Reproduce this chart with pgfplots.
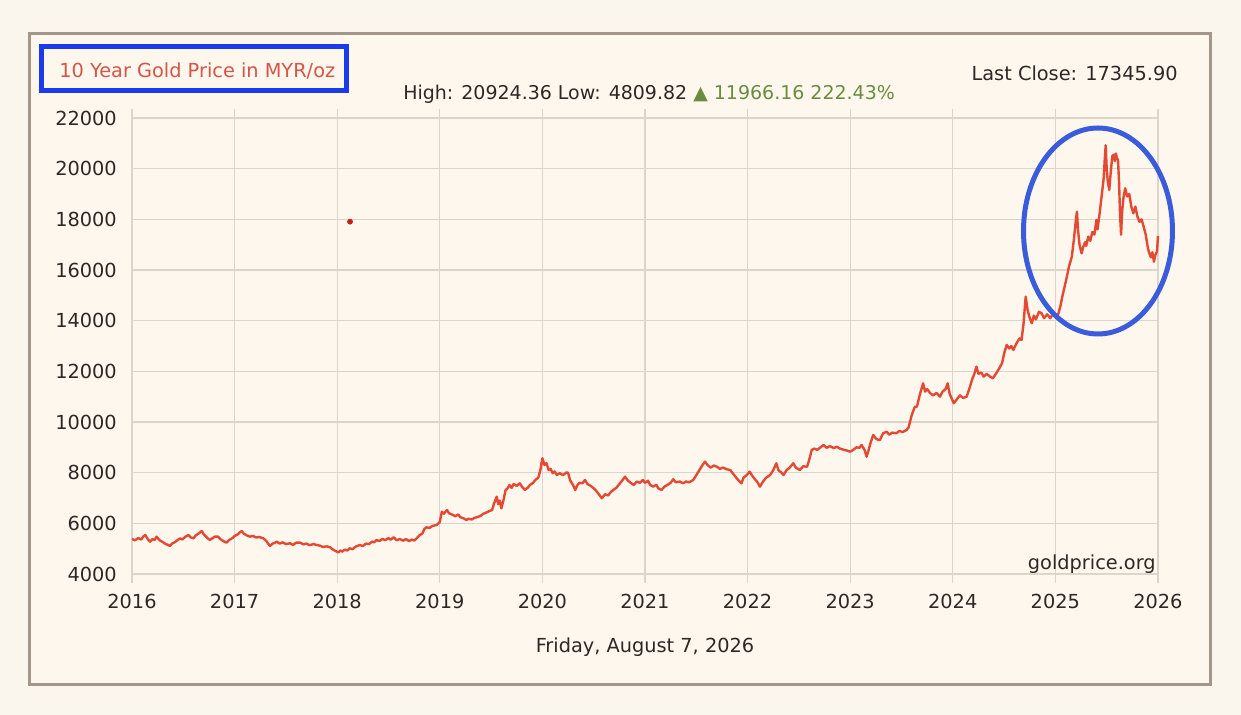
\documentclass[border=0pt]{standalone}
\usepackage{pgfplots}
\pgfplotsset{compat=1.18}
\usepackage{fontspec}
\setmainfont{DejaVu Sans}
\definecolor{bgout}{RGB}{250,246,237}
\definecolor{bgin}{RGB}{253,247,237}
\definecolor{framec}{RGB}{163,150,138}
\definecolor{gridc}{RGB}{221,213,203}
\definecolor{linec}{RGB}{228,74,51}
\definecolor{titlec}{RGB}{214,84,72}
\definecolor{textc}{RGB}{45,40,38}
\definecolor{greenc}{RGB}{107,140,62}
\definecolor{boxblue}{RGB}{26,58,235}
\definecolor{ellblue}{RGB}{58,92,220}
\newcommand{\ff}{\fontsize{11}{13}\selectfont}

\pgfplotstableread{
x y
2016.00 5380
2016.03 5330
2016.06 5420
2016.09 5360
2016.11 5480
2016.13 5540
2016.15 5400
2016.175 5275
2016.20 5380
2016.22 5340
2016.24 5473
2016.27 5330
2016.30 5260
2016.33 5180
2016.35 5150
2016.37 5105
2016.39 5200
2016.42 5260
2016.44 5330
2016.47 5409
2016.49 5360
2016.52 5470
2016.55 5540
2016.57 5450
2016.60 5409
2016.62 5520
2016.65 5600
2016.68 5698
2016.70 5560
2016.72 5480
2016.74 5400
2016.76 5342
2016.79 5430
2016.81 5480
2016.84 5473
2016.86 5380
2016.89 5300
2016.92 5236
2016.95 5350
2016.98 5420
2017.00 5500
2017.03 5560
2017.05 5640
2017.07 5698
2017.09 5590
2017.12 5520
2017.15 5473
2017.18 5500
2017.21 5440
2017.24 5460
2017.28 5409
2017.31 5300
2017.33 5180
2017.345 5105
2017.37 5200
2017.39 5230
2017.41 5275
2017.44 5200
2017.47 5250
2017.50 5180
2017.54 5212
2017.57 5150
2017.60 5240
2017.64 5236
2017.67 5170
2017.70 5200
2017.73 5140
2017.77 5180
2017.80 5145
2017.83 5120
2017.86 5070
2017.90 5090
2017.93 5054
2017.96 4960
2017.99 4900
2018.01 4850
2018.03 4930
2018.05 4880
2018.07 4960
2018.10 4930
2018.12 5015
2018.15 4980
2018.18 5080
2018.22 5145
2018.25 5100
2018.28 5200
2018.31 5180
2018.34 5280
2018.36 5250
2018.385 5342
2018.41 5300
2018.44 5380
2018.47 5340
2018.50 5420
2018.52 5350
2018.55 5449
2018.58 5330
2018.61 5380
2018.645 5315
2018.67 5380
2018.70 5300
2018.73 5360
2018.75 5320
2018.775 5409
2018.80 5520
2018.83 5600
2018.85 5780
2018.87 5843
2018.90 5820
2018.93 5900
2018.97 5935
2019.00 6050
2019.02 6460
2019.04 6380
2019.07 6527
2019.09 6400
2019.11 6360
2019.13 6330
2019.15 6280
2019.18 6350
2019.20 6240
2019.23 6200
2019.26 6132
2019.28 6180
2019.31 6150
2019.34 6220
2019.37 6250
2019.40 6300
2019.42 6369
2019.45 6420
2019.48 6480
2019.51 6527
2019.53 6800
2019.555 7052
2019.57 6750
2019.585 6900
2019.60 6594
2019.62 6900
2019.64 7300
2019.66 7380
2019.68 7514
2019.70 7400
2019.72 7550
2019.75 7480
2019.78 7580
2019.80 7450
2019.83 7316
2019.86 7420
2019.88 7520
2019.91 7600
2019.93 7711
2019.96 7800
2019.98 8100
2020.00 8568
2020.02 8300
2020.04 8380
2020.06 8106
2020.08 8150
2020.10 7980
2020.12 8050
2020.14 7909
2020.17 7980
2020.20 7900
2020.23 8000
2020.25 7999
2020.27 7700
2020.30 7500
2020.32 7316
2020.34 7500
2020.36 7600
2020.39 7580
2020.415 7711
2020.44 7550
2020.47 7480
2020.50 7383
2020.52 7300
2020.55 7150
2020.58 6988
2020.61 7150
2020.64 7100
2020.67 7250
2020.69 7316
2020.72 7400
2020.75 7550
2020.78 7700
2020.805 7843
2020.83 7700
2020.86 7600
2020.89 7514
2020.92 7650
2020.95 7600
2020.98 7711
2021.00 7600
2021.03 7680
2021.05 7514
2021.08 7450
2021.11 7520
2021.13 7380
2021.16 7316
2021.19 7450
2021.22 7520
2021.25 7600
2021.275 7738
2021.30 7620
2021.34 7650
2021.37 7580
2021.40 7650
2021.43 7620
2021.47 7711
2021.50 7900
2021.53 8100
2021.56 8300
2021.585 8434
2021.61 8300
2021.64 8200
2021.67 8280
2021.70 8237
2021.73 8150
2021.76 8200
2021.80 8130
2021.83 8106
2021.86 7950
2021.89 7800
2021.91 7700
2021.94 7580
2021.96 7800
2021.99 7900
2022.02 8040
2022.05 7850
2022.08 7700
2022.10 7600
2022.12 7448
2022.15 7650
2022.18 7800
2022.22 7909
2022.25 8100
2022.28 8371
2022.30 8100
2022.33 8000
2022.35 7909
2022.38 8100
2022.41 8200
2022.445 8371
2022.47 8200
2022.51 8106
2022.54 8250
2022.58 8237
2022.60 8500
2022.625 8895
2022.65 8950
2022.68 8900
2022.71 9000
2022.74 9093
2022.77 8980
2022.80 9050
2022.84 8970
2022.87 9026
2022.90 8950
2022.94 8900
2022.97 8870
2023.00 8829
2023.03 8900
2023.06 9000
2023.09 8980
2023.11 9093
2023.14 8900
2023.16 8631
2023.18 8900
2023.20 9200
2023.225 9488
2023.25 9350
2023.27 9300
2023.29 9290
2023.32 9554
2023.355 9618
2023.38 9500
2023.41 9580
2023.45 9554
2023.48 9650
2023.51 9600
2023.55 9685
2023.57 9800
2023.60 10277
2023.63 10600
2023.65 10605
2023.68 11100
2023.71 11528
2023.73 11200
2023.75 11300
2023.78 11134
2023.81 11050
2023.84 11150
2023.875 11000
2023.90 11200
2023.93 11300
2023.95 11528
2023.97 11100
2024.01 10739
2024.04 10900
2024.07 11050
2024.10 10950
2024.135 11000
2024.16 11300
2024.19 11700
2024.21 11900
2024.23 12185
2024.25 11900
2024.28 11950
2024.30 11790
2024.33 11900
2024.36 11800
2024.39 11725
2024.42 11900
2024.45 12100
2024.48 12318
2024.50 12700
2024.525 13040
2024.55 12900
2024.57 13000
2024.59 12843
2024.62 13100
2024.65 13300
2024.67 13238
2024.69 13900
2024.71 14948
2024.73 14400
2024.75 14100
2024.77 13897
2024.79 14200
2024.81 14050
2024.84 14350
2024.865 14291
2024.89 14100
2024.92 14250
2024.95 14094
2024.98 14300
2025.01 14150
2025.03 14291
2025.05 14600
2025.07 15000
2025.09 15343
2025.11 15700
2025.13 16100
2025.16 16527
2025.18 17200
2025.20 18000
2025.21 18303
2025.22 17600
2025.235 17000
2025.255 16659
2025.27 16900
2025.29 17100
2025.30 16950
2025.32 17316
2025.34 17150
2025.36 17500
2025.38 17400
2025.40 17976
2025.41 17600
2025.43 18200
2025.45 18895
2025.47 19600
2025.48 20300
2025.49 20924
2025.50 20000
2025.51 19500
2025.525 19160
2025.54 19900
2025.555 20500
2025.57 20553
2025.58 20300
2025.59 20600
2025.60 20400
2025.61 20356
2025.62 19500
2025.63 18200
2025.64 17395
2025.65 18300
2025.665 18900
2025.68 19225
2025.70 18900
2025.72 19000
2025.74 18500
2025.76 18237
2025.78 18500
2025.80 18100
2025.82 17900
2025.84 18000
2025.86 17711
2025.88 17400
2025.90 16900
2025.91 16724
2025.93 16500
2025.945 16700
2025.96 16329
2025.975 16600
2025.99 16724
2026.00 17346
}\gold

\begin{document}
\begin{tikzpicture}
\begin{scope}[x=0.2mm,y=-0.2mm]
\fill[bgout] (0,0) rectangle (1241,715);
\fill[bgin] (29.5,33.5) rectangle (1210.5,684.5);
\draw[framec, line width=0.6mm] (29.5,33.5) rectangle (1210.5,684.5);
\end{scope}

\begin{axis}[
  at={(26.4mm,-114.8mm)}, anchor=south west,
  scale only axis, width=205.2mm, height=91.2mm,
  xmin=2016, xmax=2026, ymin=4000, ymax=22000,
  xtick={2016,2017,...,2026},
  ytick={4000,6000,...,22000},
  scaled ticks=false,
  /pgf/number format/.cd, 1000 sep={}, fixed, precision=0, assume math mode=true,
  /pgfplots/.cd,
  grid=major,
  major grid style={gridc, line width=0.25mm},
  axis line style={gridc, line width=0.25mm},
  tick align=outside,
  major tick length=1.8mm,
  xtick style={gridc, line width=0.25mm},
  ytick style={draw=none},
  ticklabel style={font=\ff, text=textc},
  xticklabel style={yshift=-0.9mm},
  axis background/.style={fill=bgin},
  clip=false,
]
\addplot[linec, line width=0.48mm, line join=round] table[x=x,y=y] {\gold};
\addplot[only marks, mark=*, mark size=0.5mm, color={rgb,255:red,200;green,30;blue,20}] coordinates {(2018.125,17907)};
\end{axis}

\begin{scope}[x=0.2mm,y=-0.2mm]
\node[anchor=base west, inner sep=0, font=\ff, text=titlec] at (59,77.7) {10 Year Gold Price in MYR/oz};
\draw[boxblue, line width=1mm] (41.8,46.8) rectangle (346.7,90.2);
\node[anchor=base east, inner sep=0, font=\ff, text=textc] at (1178,81) {Last Close: 17345.90};
\node[anchor=base west, inner sep=0, font=\fontsize{10.8}{13}\selectfont, text=textc] at (403,100) {High: 20924.36 Low: 4809.82 \textcolor{greenc}{▲ 11966.16 222.43\%}};
\node[anchor=base east, inner sep=0, font=\ff, text=textc] at (1156,570) {goldprice.org};
\node[anchor=base, inner sep=0, font=\ff, text=textc] at (645,653) {Friday, August 7, 2026};
\draw[ellblue, line width=1mm] (1098,231) ellipse [x radius=74.5, y radius=103];
\end{scope}
\pgfresetboundingbox
\path (0,0) rectangle (248.2mm,-143mm);
\end{tikzpicture}
\end{document}
